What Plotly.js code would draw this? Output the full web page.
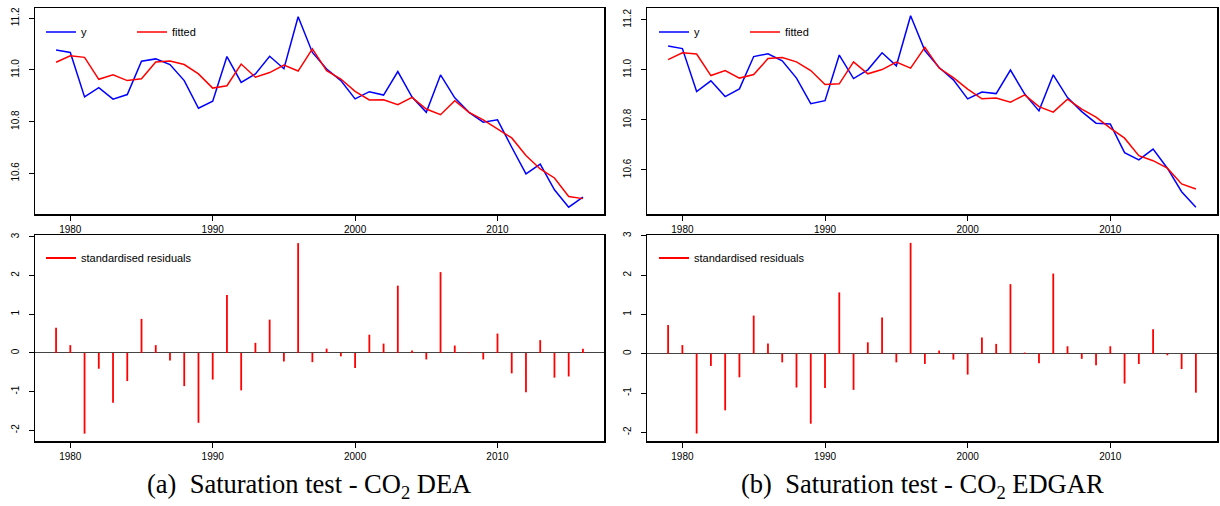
<!DOCTYPE html>
<html>
<head>
<meta charset="utf-8">
<script src="https://cdn.plot.ly/plotly-3.0.1.min.js"></script>
<style>html,body{margin:0;padding:0;background:#fff;}#chart{width:1220px;height:506px;}</style>
</head>
<body>
<div id="chart"></div>
<script>
const years = [1979,1980,1981,1982,1983,1984,1985,1986,1987,1988,1989,1990,1991,1992,1993,1994,1995,1996,1997,1998,1999,2000,2001,2002,2003,2004,2005,2006,2007,2008,2009,2010,2011,2012,2013,2014,2015,2016];

const deaY = [11.077,11.068,10.896,10.932,10.887,10.905,11.034,11.043,11.021,10.959,10.852,10.879,11.052,10.952,10.985,11.053,11.005,11.206,
  11.068,11.004,10.959,10.888,10.916,10.903,10.994,10.895,10.836,10.981,10.892,10.836,10.798,10.807,10.701,10.598,10.636,10.536,10.469,10.508];
const deaFit = [11.030,11.055,11.049,10.964,10.981,10.959,10.966,11.031,11.035,11.021,10.985,10.930,10.939,11.023,10.972,10.990,11.019,10.996,
  11.082,10.997,10.965,10.917,10.884,10.885,10.866,10.894,10.849,10.827,10.881,10.836,10.807,10.772,10.737,10.669,10.617,10.582,10.510,10.502];
const deaRes = [0.65,0.20,-2.09,-0.41,-1.29,-0.73,0.88,0.20,-0.20,-0.86,-1.81,-0.69,1.50,-0.97,0.26,0.86,-0.22,2.84,
  -0.24,0.11,-0.09,-0.39,0.47,0.24,1.74,0.06,-0.17,2.09,0.19,0.01,-0.17,0.50,-0.53,-1.02,0.33,-0.64,-0.61,0.11];

const edgarY = [11.095,11.085,10.913,10.956,10.893,10.924,11.053,11.064,11.036,10.967,10.865,10.877,11.059,10.965,11.000,11.068,11.016,11.216,
  11.077,11.009,10.960,10.884,10.911,10.905,10.999,10.903,10.836,10.980,10.889,10.833,10.787,10.784,10.669,10.640,10.683,10.607,10.513,10.451];
const edgarFit = [11.041,11.068,11.063,10.977,10.997,10.967,10.981,11.045,11.049,11.032,10.997,10.941,10.944,11.032,10.984,11.001,11.031,11.007,
  11.090,11.007,10.969,10.923,10.884,10.887,10.871,10.900,10.853,10.831,10.883,10.843,10.811,10.767,10.727,10.657,10.637,10.607,10.544,10.524];
const edgarRes = [0.73,0.22,-2.03,-0.31,-1.44,-0.60,0.97,0.26,-0.22,-0.86,-1.78,-0.87,1.56,-0.92,0.29,0.92,-0.22,2.82,
  -0.26,0.08,-0.15,-0.53,0.41,0.25,1.77,0.03,-0.24,2.04,0.19,-0.13,-0.29,0.19,-0.76,-0.26,0.62,-0.04,-0.39,-0.99];

const xTicks = [1980,1990,2000,2010];
const levelTicks = [10.6,10.8,11.0,11.2];
const levelTickText = ['10.6','10.8','11.0','11.2'];
const resTicks = [-2,-1,0,1,2,3];
const resTickText = ['-2','-1','0','1','2','3'];

const captionA = '(a)  Saturation test - CO<sub>2</sub> DEA';
const captionB = '(b)  Saturation test - CO<sub>2</sub> EDGAR';

function spikes(xs, vs){
  const sx = [], sy = [];
  xs.forEach((x,i)=>{ sx.push(x,x,null); sy.push(0,vs[i],null); });
  return {sx, sy};
}

const BLUE = '#0000ff', RED = '#ff0000';
const dS = spikes(years, deaRes), eS = spikes(years, edgarRes);

const data = [
  {x:years, y:deaY, type:'scatter', mode:'lines', name:'y', line:{color:BLUE,width:1.5}, xaxis:'x', yaxis:'y', legend:'legend'},
  {x:years, y:deaFit, type:'scatter', mode:'lines', name:'fitted', line:{color:RED,width:1.5}, xaxis:'x', yaxis:'y', legend:'legend'},
  {x:dS.sx, y:dS.sy, type:'scatter', mode:'lines', name:'standardised residuals', line:{color:RED,width:1.8}, xaxis:'x2', yaxis:'y2', legend:'legend2'},
  {x:years, y:edgarY, type:'scatter', mode:'lines', name:'y', line:{color:BLUE,width:1.5}, xaxis:'x3', yaxis:'y3', legend:'legend3'},
  {x:years, y:edgarFit, type:'scatter', mode:'lines', name:'fitted', line:{color:RED,width:1.5}, xaxis:'x3', yaxis:'y3', legend:'legend3'},
  {x:eS.sx, y:eS.sy, type:'scatter', mode:'lines', name:'standardised residuals', line:{color:RED,width:1.8}, xaxis:'x4', yaxis:'y4', legend:'legend4'}
];

const W = 1220, H = 506;
const px = v => v / W;
const py = v => 1 - v / H;
const tickFont = {family:'Liberation Sans, Arial, sans-serif', size:10, color:'#000'};

function xax(dom, anchor){
  return {domain:dom, anchor:anchor, range:[1977.52,2017.48], tickvals:xTicks, ticktext:xTicks.map(String),
    showline:true, mirror:true, linecolor:'#000', linewidth:1.5, ticks:'outside', ticklen:5, tickwidth:1, tickcolor:'#000',
    showgrid:false, zeroline:false, tickfont:tickFont, fixedrange:true};
}
function yax(dom, anchor, range, tv, tt, zl){
  return {domain:dom, anchor:anchor, range:range, tickvals:tv, ticktext:tt, tickangle:-90,
    showline:true, mirror:true, linecolor:'#000', linewidth:1.5, ticks:'outside', ticklen:5, tickwidth:1, tickcolor:'#000',
    showgrid:false, zeroline:!!zl, zerolinecolor:'#444', zerolinewidth:1, tickfont:tickFont, ticklabelstandoff:6, fixedrange:true};
}

const leftX = [px(35), px(604)], rightX = [px(647), px(1217)];
const topY = [py(214), py(8)], botY = [py(441), py(235)];

function leg(x, y, ew){
  const l = {x:px(x), y:py(y), xanchor:'left', yanchor:'middle', orientation:'h', bgcolor:'rgba(0,0,0,0)', borderwidth:0,
    font:{family:'Liberation Sans, Arial, sans-serif', size:11, color:'#000'}, traceorder:'normal'};
  if (ew) { l.entrywidth = ew; l.entrywidthmode = 'pixels'; }
  return l;
}

const layout = {
  width:W, height:H, margin:{l:0,r:0,t:0,b:0}, paper_bgcolor:'#fff', plot_bgcolor:'#fff', showlegend:true,
  xaxis: xax(leftX,'y'), yaxis: yax(topY,'x',[10.4425,11.24],levelTicks,levelTickText,false),
  xaxis2: xax(leftX,'y2'), yaxis2: yax(botY,'x2',[-2.28,3.05],resTicks,resTickText,true),
  xaxis3: xax(rightX,'y3'), yaxis3: yax(topY,'x3',[10.424,11.247],levelTicks,levelTickText,false),
  xaxis4: xax(rightX,'y4'), yaxis4: yax(botY,'x4',[-2.22,3.02],resTicks,resTickText,true),
  legend: leg(41,32,46), legend2: leg(41,258), legend3: leg(654,32,46), legend4: leg(654,258),
  annotations:[
    {text:captionA, xref:'paper', yref:'paper', x:px(309), y:py(486), xanchor:'center', yanchor:'middle', showarrow:false,
     font:{family:'Liberation Serif, Times New Roman, serif', size:26.5, color:'#000'}},
    {text:captionB, xref:'paper', yref:'paper', x:px(922), y:py(486), xanchor:'center', yanchor:'middle', showarrow:false,
     font:{family:'Liberation Serif, Times New Roman, serif', size:26.5, color:'#000'}}
  ]
};

Plotly.newPlot('chart', data, layout, {staticPlot:true, displayModeBar:false});
</script>
</body>
</html>
